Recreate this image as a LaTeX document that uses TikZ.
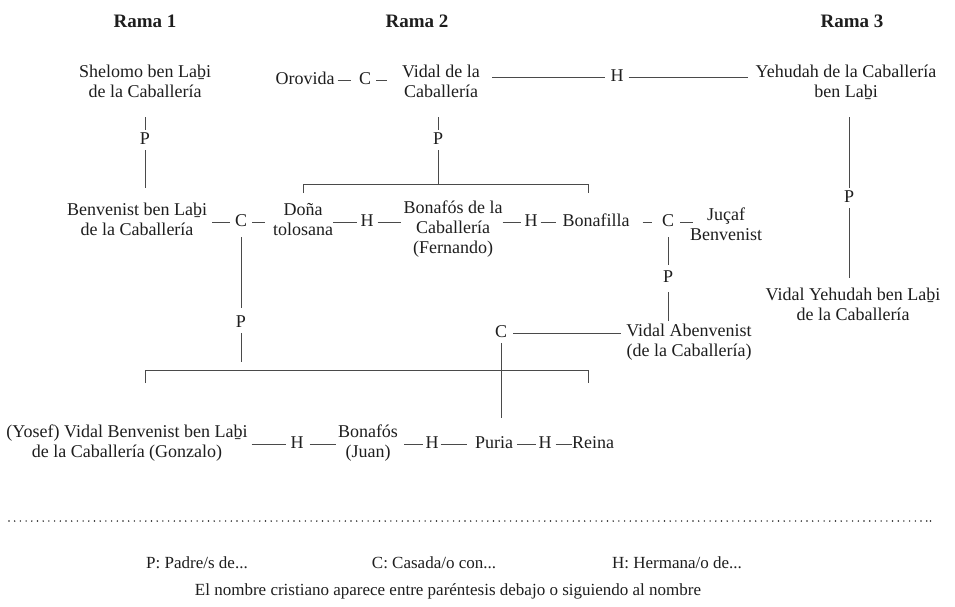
\documentclass[tikz,border=0pt]{standalone}
\usepackage{fontspec}
\setmainfont{Liberation Serif}
\definecolor{ink}{HTML}{1E1E1E}
\definecolor{rulegray}{HTML}{4A4A4A}
\begin{document}
\begin{tikzpicture}[x=1pt,y=-1pt,
  every node/.style={text=ink},
  person/.style={font=\fontsize{18}{20}\selectfont, align=center, inner sep=0pt,
    execute at begin node=\strut, execute at end node=\strut},
  rel/.style={person},
  head/.style={font=\fontsize{19}{20}\selectfont\bfseries, inner sep=0pt},
  legend/.style={font=\fontsize{17}{19}\selectfont, inner sep=0pt},
  link/.style={draw=rulegray, line width=0.8pt},
  dotline/.style={draw=ink, line width=1.6pt, line cap=round, dash pattern=on 0pt off 5.7pt}
]
\fill[white] (0,0) rectangle (955,606);
\useasboundingbox (0,0) rectangle (955,606);

% headers
\node[head] (rama1) at (145,21) {Rama 1};
\node[head] (rama2) at (417,21) {Rama 2};
\node[head] (rama3) at (852,21) {Rama 3};

% persons
\node[person] (shelomo) at (145,84) {Shelomo ben Laḇi\\de la Caballería};
\node[person] (orovida) at (305,80) {Orovida};
\node[person] (vidal) at (441,84) {Vidal de la\\Caballería};
\node[person] (yehudah) at (846,84) {Yehudah de la Caballería\\ben Laḇi};
\node[person] (benvenist) at (137,222) {Benvenist ben Laḇi\\de la Caballería};
\node[person] (dona) at (303,222) {Doña\\tolosana};
\node[person] (bonafos) at (453,230) {Bonafós de la\\Caballería\\(Fernando)};
\node[person] (bonafilla) at (596,222) {Bonafilla};
\node[person] (jucaf) at (726,227) {Juçaf\\Benvenist};
\node[person] (vidalyeh) at (853,307) {Vidal Yehudah ben Laḇi\\de la Caballería};
\node[person] (vidalab) at (689,343) {Vidal Abenvenist\\(de la Caballería)};
\node[person] (yosef) at (127,444) {(Yosef) Vidal Benvenist ben Laḇi\\de la Caballería (Gonzalo)};
\node[person] (bonafosj) at (368,444) {Bonafós\\(Juan)};
\node[person] (puria) at (494,444) {Puria};
\node[person] (reina) at (593,444) {Reina};

% relation labels
\node[rel] (C1) at (365,80) {C};
\node[rel] (H1) at (617,77) {H};
\node[rel] (P1) at (145,140) {P};
\node[rel] (P2) at (438,140) {P};
\node[rel] (P3) at (849,198) {P};
\node[rel] (C2) at (241,222) {C};
\node[rel] (H2) at (367,222) {H};
\node[rel] (H3) at (531,222) {H};
\node[rel] (C3) at (668,222) {C};
\node[rel] (P4) at (668,278) {P};
\node[rel] (P5) at (241,323) {P};
\node[rel] (C4) at (501,333) {C};
\node[rel] (H4) at (297,444) {H};
\node[rel] (H5) at (432,444) {H};
\node[rel] (H6) at (545,444) {H};

% bracket coordinates
\coordinate (br1) at (438,184);
\coordinate (t1l) at (303,193);
\coordinate (t1r) at (588,193);
\coordinate (p5end) at (241,362);
\coordinate (b2l) at (145,370);
\coordinate (b2r) at (588,370);
\coordinate (t2l) at (145,383);
\coordinate (t2r) at (588,383);

% row 1
\draw[link, shorten <=3pt, shorten >=8pt] (orovida.east) -- (C1.west);
\draw[link, shorten <=5pt, shorten >=15pt] (C1.east) -- (C1.east -| vidal.west);
\draw[link, shorten <=12pt, shorten >=5pt] (H1.west -| vidal.east) -- (H1.west);
\draw[link, shorten <=5pt, shorten >=8pt] (H1.east) -- (H1.east -| yehudah.west);

% row 2
\draw[link, shorten <=5pt, shorten >=5pt] (benvenist.east) -- (C2.west);
\draw[link, shorten <=5pt, shorten >=8pt] (C2.east) -- (dona.west);
\draw[link, shorten >=3pt] (dona.east) -- (H2.west);
\draw[link, shorten <=4pt, shorten >=2pt] (H2.east) -- (H2.east -| bonafos.west);
\draw[link, shorten >=3pt] (H3.west -| bonafos.east) -- (H3.west);
\draw[link, shorten <=3pt, shorten >=6pt] (H3.east) -- (bonafilla.west);
\draw[link, shorten <=13pt, shorten >=10pt] (bonafilla.east) -- (C3.west);
\draw[link, shorten <=6pt, shorten >=-3pt] (C3.east) -- (C3.east -| jucaf.west);

% row 3
\draw[link, shorten <=6pt, shorten >=5pt] (C4.east) -- (C4.east -| vidalab.west);

% row 4
\draw[link, shorten <=4pt, shorten >=4pt] (yosef.east |- H4.west) -- (H4.west);
\draw[link, shorten <=6pt, shorten >=2pt] (H4.east) -- (H4.east -| bonafosj.west);
\draw[link, shorten <=6pt, shorten >=2pt] (bonafosj.east |- H5.west) -- (H5.west);
\draw[link, shorten <=2pt, shorten >=8pt] (H5.east) -- (puria.west);
\draw[link, shorten <=4pt, shorten >=2pt] (puria.east) -- (H6.west);
\draw[link, shorten <=4pt] (H6.east) -- (reina.west);

% verticals
\draw[link, shorten <=14pt] (shelomo.south -| P1) -- (P1.north);
\draw[link, shorten >=15pt] (P1.south) -- (P1.south |- benvenist.north);
\draw[link, shorten <=14pt] (vidal.south -| P2) -- (P2.north);
\draw[link] (P2.south) -- (br1);
\draw[link] (t1l) -- (t1l |- br1) -- (t1r |- br1) -- (t1r);
\draw[link, shorten <=14pt] (yehudah.south -| P3) -- (P3.north);
\draw[link, shorten >=10pt] (P3.south) -- (P3.south |- vidalyeh.north);
\draw[link, shorten <=5pt, shorten >=5pt] (C2.south) -- (P5.north);
\draw[link] (P5.south) -- (p5end);
\draw[link] (t2l) -- (b2l) -- (b2r) -- (t2r);
\draw[link, shorten <=5pt, shorten >=3pt] (C3.south) -- (P4.north);
\draw[link, shorten <=4pt, shorten >=3pt] (P4.south) -- (P4.south |- vidalab.north);
\draw[link, shorten >=16pt] (C4.south) -- (C4.south |- puria.north);

% dotted separator
\coordinate (dl) at (9,521);
\coordinate (dr) at (927.5,521);
\coordinate (dend) at (930.5,521);
\draw[dotline] (dl) -- (dr);
\fill[ink] (dend) circle (0.9pt);

% legend
\node[legend] (legP) at (197,563) {P: Padre/s de...};
\node[legend] (legC) at (434,563) {C: Casada/o con...};
\node[legend] (legH) at (677,563) {H: Hermana/o de...};
\node[legend] (note) at (448,591) {El nombre cristiano aparece entre paréntesis debajo o siguiendo al nombre};
\end{tikzpicture}
\end{document}
